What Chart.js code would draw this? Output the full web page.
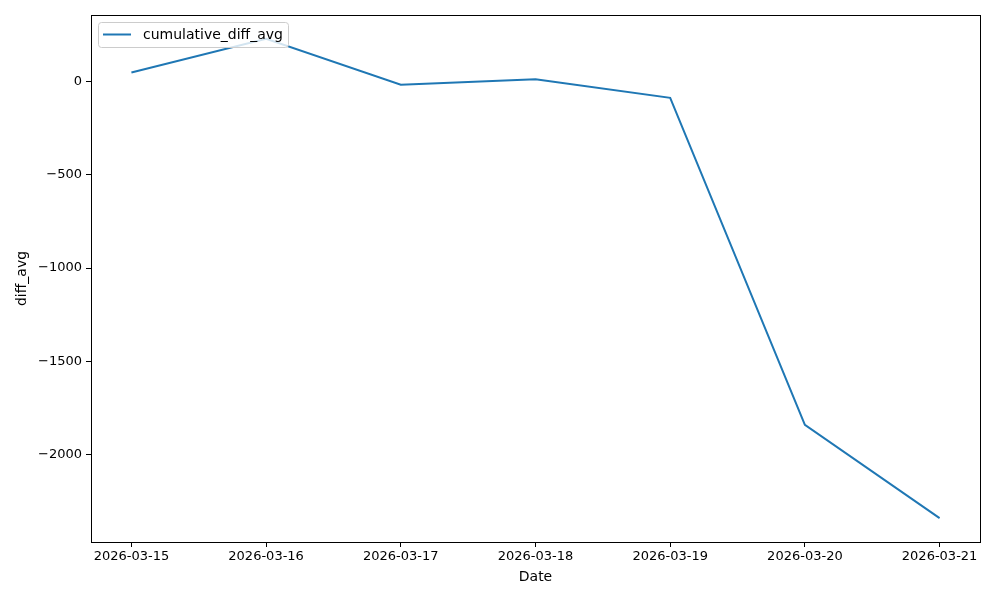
<!DOCTYPE html>
<html>
<head>
<meta charset="utf-8">
<script src="https://cdn.jsdelivr.net/npm/chart.js@4"></script>
<style>
  html, body { margin: 0; padding: 0; background: #fff; }
  #wrap { width: 1000px; height: 600px; }
</style>
</head>
<body>
<div id="wrap"><canvas id="chart" width="1000" height="600"></canvas></div>
<script>
const dates = ['2026-03-15', '2026-03-16', '2026-03-17', '2026-03-18', '2026-03-19', '2026-03-20', '2026-03-21']
const diffAvg = [48, 228, -18, 12, -88, -1840, -2340]
const yTicks = [0, -500, -1000, -1500, -2000]
const seriesName = 'cumulative_diff_avg'

const fontFamily = '"DejaVu Sans", sans-serif'

const minus = v => String(v).replace('-', '\u2212')

const frame = {
    id: 'frame',
    afterDatasetsDraw(chart) {
        const { ctx, chartArea: a } = chart
        ctx.save()
        ctx.strokeStyle = '#000'
        ctx.lineWidth = 1
        ctx.strokeRect(Math.round(a.left) + 0.5, Math.round(a.top) + 0.5, Math.round(a.right - a.left), Math.round(a.bottom - a.top))

        // legend box, upper left
        const x = a.left + 7, y = a.top + 7, w = 190, h = 25
        ctx.fillStyle = 'rgba(255,255,255,0.8)'
        ctx.strokeStyle = '#cccccc'
        ctx.beginPath()
        ctx.roundRect(x + 0.5, y + 0.5, w, h, 3)
        ctx.fill()
        ctx.stroke()
        ctx.strokeStyle = '#1f77b4'
        ctx.lineWidth = 2
        ctx.beginPath()
        ctx.moveTo(x + 5, y + 12.5)
        ctx.lineTo(x + 33, y + 12.5)
        ctx.stroke()
        ctx.fillStyle = '#000'
        ctx.font = '14px ' + fontFamily
        ctx.textBaseline = 'middle'
        ctx.fillText(seriesName, x + 45, y + 13)
        ctx.restore()
    }
}

const ctx = document.getElementById('chart').getContext('2d')

new Chart(ctx, {
    type: 'line',
    data: {
        datasets: [{
            label: seriesName,
            data: diffAvg.map((v, i) => ({ x: i, y: v })),
            borderColor: '#1f77b4',
            backgroundColor: '#1f77b4',
            borderWidth: 2,
            pointRadius: 0,
            tension: 0
        }]
    },
    options: {
        responsive: false,
        animation: false,
        layout: { padding: { left: 0, top: 15, right: 20, bottom: 0 } },
        plugins: {
            legend: { display: false },
            tooltip: { enabled: false }
        },
        scales: {
            x: {
                type: 'linear',
                min: -0.3,
                max: 6.3,
                afterBuildTicks: axis => { axis.ticks = dates.map((d, i) => ({ value: i })) },
                afterFit: axis => { axis.height = 58 },
                ticks: {
                    callback: v => dates[v],
                    color: '#000',
                    font: { family: fontFamily, size: 13 },
                    maxRotation: 0,
                    autoSkip: false,
                    padding: 2
                },
                grid: { drawOnChartArea: false, drawTicks: true, tickLength: 5, color: '#000' },
                border: { color: '#000' },
                title: {
                    display: true,
                    text: 'Date',
                    color: '#000',
                    font: { family: fontFamily, size: 14 },
                    padding: { top: 4, bottom: 14 }
                }
            },
            y: {
                min: -2468,
                max: 356,
                afterBuildTicks: axis => { axis.ticks = yTicks.map(v => ({ value: v })) },
                afterFit: axis => { axis.width = 91 },
                ticks: {
                    callback: v => minus(v),
                    color: '#000',
                    font: { family: fontFamily, size: 13 },
                    padding: 4
                },
                grid: { drawOnChartArea: false, drawTicks: true, tickLength: 5, color: '#000' },
                border: { color: '#000' },
                title: {
                    display: true,
                    text: 'diff_avg',
                    color: '#000',
                    font: { family: fontFamily, size: 14 },
                    padding: { top: 14, bottom: 0 }
                }
            }
        }
    },
    plugins: [frame]
})
</script>
</body>
</html>
